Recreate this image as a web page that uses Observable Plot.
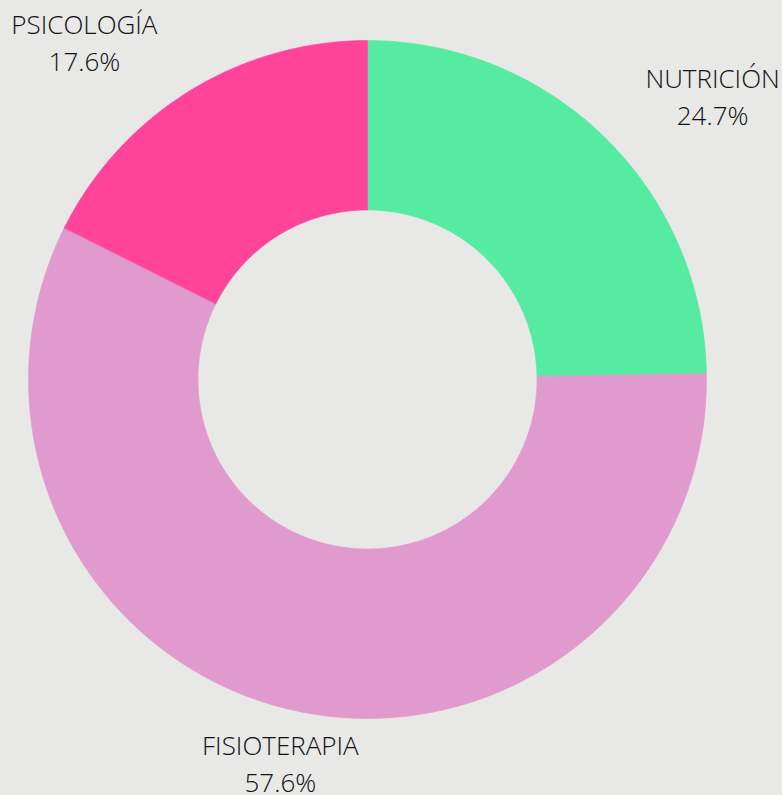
<!DOCTYPE html>
<html>
<head>
<meta charset="utf-8">
<script src="https://cdn.jsdelivr.net/npm/d3@7"></script>
<script src="https://cdn.jsdelivr.net/npm/@observablehq/plot@0.6"></script>
<style>
  html, body { margin: 0; padding: 0; background: #e8e8e7; }
  #chart { width: 782px; height: 795px; }
  svg { display: block; }
</style>
</head>
<body>
<div id="chart"></div>
<script>
// Data
const categories = ["NUTRICIÓN", "FISIOTERAPIA", "PSICOLOGÍA"];
const values = [24.7, 57.6, 17.6];
const colors = ["#55eba1", "#e09acd", "#ff4499"];

// Layout (unit coordinates around donut centre)
const innerRatio = 0.5;
const labelAnchors = [[1.018, 0.832], [-0.257, -1.136], [-0.835, 0.99]];

const total = d3.sum(values);
const slices = [];
let acc = 0;
categories.forEach((c, i) => {
  const a0 = acc / total * 2 * Math.PI;
  acc += values[i];
  const a1 = acc / total * 2 * Math.PI;
  slices.push({c, a0, a1});
});

// polygon outline for each slice (outer arc then inner arc reversed)
const pts = [];
const N = 240;
for (const s of slices) {
  const n = Math.max(8, Math.round(N * (s.a1 - s.a0) / (2 * Math.PI)));
  for (let k = 0; k <= n; k++) {
    const a = s.a0 + (s.a1 - s.a0) * k / n;
    pts.push({c: s.c, x: Math.sin(a), y: Math.cos(a)});
  }
  for (let k = n; k >= 0; k--) {
    const a = s.a0 + (s.a1 - s.a0) * k / n;
    pts.push({c: s.c, x: innerRatio * Math.sin(a), y: innerRatio * Math.cos(a)});
  }
}

const labels = categories.map((c, i) => ({
  text: c + "\n" + values[i].toFixed(1) + "%",
  x: labelAnchors[i][0],
  y: labelAnchors[i][1]
}));

const chart = Plot.plot({
  width: 782,
  height: 795,
  marginLeft: 28,
  marginRight: 76,
  marginTop: 40,
  marginBottom: 77,
  style: {background: "transparent", overflow: "visible"},
  x: {domain: [-1, 1], axis: null},
  y: {domain: [-1, 1], axis: null},
  color: {domain: categories, range: colors},
  marks: [
    Plot.line(pts, {x: "x", y: "y", z: "c", fill: "c", stroke: "c", strokeWidth: 0.6, curve: "linear-closed"}),
    Plot.text(labels, {
      x: "x", y: "y", text: "text",
      fontSize: 26, lineHeight: 1.42, dy: -3,
      fill: "#111111",
      fontFamily: "Open Sans",
      fontWeight: 300
    })
  ]
});
document.getElementById("chart").appendChild(chart);
</script>
</body>
</html>
